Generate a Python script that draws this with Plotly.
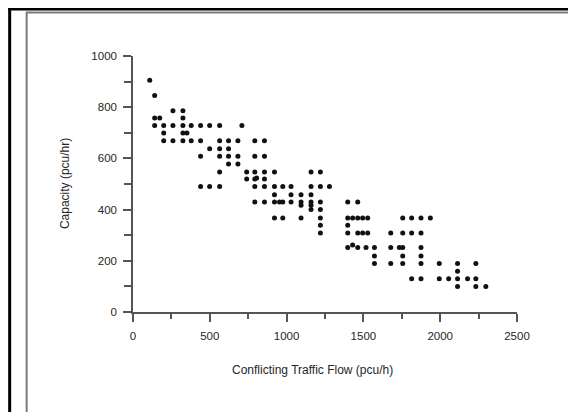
import plotly.graph_objects as go

# Conflicting traffic flow (pcu/h)
flow = [
    109,
    141,
    141, 174, 325,
    260, 325,
    141, 200, 260, 325, 379, 440, 499, 564, 709,
    200, 325, 351,
    200, 260, 325, 379, 440, 564, 622, 683, 793, 856,
    499, 564, 622,
    440, 564, 622, 683, 793, 856,
    622, 683,
    564, 740, 793, 856, 921, 1159, 1220,
    740, 793, 805, 856,
    440, 499, 564, 793, 856, 921, 975, 1029, 1159, 1220, 1279,
    921, 1029, 1094, 1159,
    793, 856, 921, 954, 975, 1029, 1094, 1159, 1220, 1398, 1463,
    1094, 1159,
    1159, 1220,
    921, 975, 1094, 1220, 1398, 1430, 1463, 1495, 1528, 1756, 1814, 1875, 1936,
    1220, 1398,
    1220, 1398, 1463, 1495, 1528, 1678, 1756, 1814, 1875,
    1398, 1430, 1463, 1517, 1572, 1678, 1734, 1756, 1875,
    1572, 1756, 1875,
    1572, 1678, 1756, 1875, 1994, 2113, 2232,
    2113,
    1814, 1875, 1994, 2055, 2113, 2178, 2232,
    2113, 2232, 2297,
]

# Capacity (pcu/hr)
capacity = [
    905,
    846,
    758, 758, 758,
    786, 786,
    729, 729, 729, 729, 729, 729, 729, 729, 729,
    699, 699, 699,
    669, 669, 669, 669, 669, 669, 669, 669, 669, 669,
    638, 638, 638,
    608, 608, 608, 608, 608, 608,
    578, 578,
    547, 547, 547, 547, 547, 547, 547,
    520, 520, 523, 520,
    490, 490, 490, 490, 490, 490, 490, 490, 490, 490, 490,
    458, 458, 458, 458,
    430, 430, 430, 430, 430, 430, 430, 430, 430, 430, 430,
    417, 417,
    400, 400,
    367, 367, 367, 367, 367, 367, 367, 367, 367, 367, 367, 367, 367,
    339, 339,
    309, 309, 309, 309, 309, 309, 309, 309, 309,
    252, 262, 252, 252, 252, 252, 252, 252, 252,
    219, 219, 219,
    189, 189, 189, 189, 189, 189, 189,
    159,
    130, 130, 130, 130, 130, 130, 130,
    100, 100, 100,
]

x_ticks = [0, 500, 1000, 1500, 2000, 2500]
y_ticks = [0, 200, 400, 600, 800, 1000]

W, H = 576, 412
ML, MR, MT, MB = 125, 66.5, 48, 108
PW, PH = W - ML - MR, H - MT - MB


def px_x(px):
    return (px - ML) / PW


def px_y(py):
    return (H - MB - py) / PH


FONT = "Liberation Sans, Arial, sans-serif"
TXT = "#262626"
AX = "#555555"

fig = go.Figure()
fig.add_trace(go.Scatter(
    x=flow, y=capacity, mode="markers",
    marker=dict(color="#111111", size=5, symbol="circle", line=dict(width=0)),
    showlegend=False, hoverinfo="x+y",
))

fig.update_layout(
    width=W, height=H,
    margin=dict(l=ML, r=MR, t=MT, b=MB, pad=0),
    paper_bgcolor="white", plot_bgcolor="white",
    font=dict(family=FONT, size=11.5, color=TXT),
    showlegend=False,
)

fig.update_xaxes(
    range=[0, 2500], tickvals=x_ticks, ticktext=[str(v) for v in x_ticks],
    showline=True, linecolor=AX, linewidth=1.5,
    ticks="outside", ticklen=8, tickwidth=1.5, tickcolor=AX,
    minor=dict(ticks="outside", ticklen=5, tickwidth=1.5, tickcolor=AX, dtick=250, tick0=0),
    showgrid=False, zeroline=False, ticklabelstandoff=4,
    tickfont=dict(family=FONT, size=11.5, color=TXT),
)
fig.update_yaxes(
    range=[0, 1000], tickvals=y_ticks, ticktext=[str(v) for v in y_ticks],
    showline=True, linecolor=AX, linewidth=1.5,
    ticks="outside", ticklen=8, tickwidth=1.5, tickcolor=AX,
    minor=dict(ticks="outside", ticklen=7, tickwidth=1.5, tickcolor=AX, dtick=100, tick0=0),
    showgrid=False, zeroline=False, ticklabelstandoff=4,
    tickfont=dict(family=FONT, size=11.5, color=TXT),
)

# Axis titles
fig.add_annotation(
    text="Conflicting Traffic Flow (pcu/h)", xref="paper", yref="paper",
    x=px_x(305), y=px_y(362), xanchor="center", yanchor="middle",
    showarrow=False, font=dict(family=FONT, size=12, color=TXT),
)
fig.add_annotation(
    text="Capacity (pcu/hr)", xref="paper", yref="paper",
    x=px_x(57), y=px_y(176), xanchor="center", yanchor="middle",
    textangle=-90, showarrow=False, font=dict(family=FONT, size=12, color=TXT),
)

# Frame: black left and top bars, inner grey rectangle
fig.add_shape(type="rect", xref="paper", yref="paper",
              x0=px_x(0), x1=px_x(3), y0=px_y(H), y1=px_y(0),
              fillcolor="black", line=dict(width=0), layer="above")
fig.add_shape(type="rect", xref="paper", yref="paper",
              x0=px_x(0), x1=px_x(563), y0=px_y(2.5), y1=px_y(0),
              fillcolor="black", line=dict(width=0), layer="above")
fig.add_shape(type="rect", xref="paper", yref="paper",
              x0=px_x(18.5), x1=px_x(562), y0=px_y(410), y1=px_y(4.5),
              fillcolor="rgba(0,0,0,0)", line=dict(color="#7a7a7a", width=2),
              layer="above")

fig.write_html("out.html")
